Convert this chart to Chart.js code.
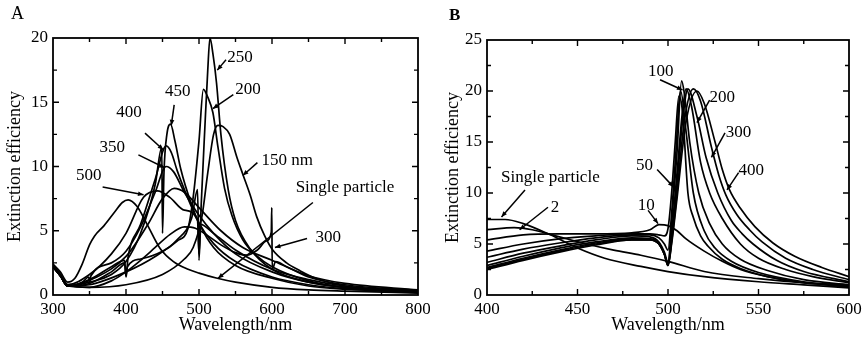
<!DOCTYPE html>
<html>
<head>
<meta charset="utf-8">
<script src="https://cdn.jsdelivr.net/npm/chart.js@4.4.1/dist/chart.umd.min.js"></script>
<style>
  html, body { margin: 0; padding: 0; background: #fff; }
  #wrap { position: relative; width: 866px; height: 338px; overflow: hidden; }
  canvas { position: absolute; top: 0; }
  #ca { left: 0; }
  #cb { left: 430px; }
  .tag { position: absolute; font-family: "Liberation Serif", serif; color: #000; }
</style>
</head>
<body>
<div id="wrap">
  <canvas id="ca" width="430" height="338"></canvas>
  <canvas id="cb" width="436" height="338"></canvas>
  <div class="tag" style="left:11px;top:3px;font-size:18px;">A</div>
  <div class="tag" style="left:449px;top:5px;font-size:17px;font-weight:bold;">B</div>
</div>
<script>
/* ---------- Panel A data: [wavelength nm, extinction efficiency] ---------- */
const A_single = [[300,2.4],[310,1.8],[320,1.0],[330,1.3],[340,2.4],[350,3.9],[357,4.6],[370,5.4],[385,6.5],[395,7.2],[403,7.4],[415,6.9],[428,5.6],[447,3.6],[465,2.6],[485,2.0],[500,1.7],[525,1.3],[550,1.0],[600,0.6],[650,0.4],[700,0.3],[800,0.15]];
const A_150 = [[300,2.2],[310,1.5],[320,0.7],[350,0.6],[400,0.8],[450,1.6],[480,2.8],[492,3.7],[504,6.1],[512,9.5],[520,12.5],[526,13.2],[533,13.1],[542,12.5],[552,10.7],[560,9.4],[570,7.8],[579,6.1],[590,4.6],[601,3.5],[620,2.5],[638,1.9],[660,1.3],[700,0.7],[750,0.4],[800,0.25]];
const A_200 = [[300,2.2],[310,1.5],[320,0.7],[350,0.9],[380,1.8],[398,2.5],[400,1.4],[402,2.2],[420,2.8],[450,3.4],[470,4.2],[485,5.2],[492,7.6],[500,12],[506,16],[512,15.4],[519,14.2],[526,11.5],[535,8.3],[545,6.2],[560,4.3],[580,3.0],[600,2.2],[650,1.1],[700,0.6],[800,0.25]];
const A_250 = [[300,2.2],[310,1.5],[320,0.7],[350,0.8],[400,1.8],[440,3.0],[470,4.3],[490,6.0],[498,8.2],[500,2.7],[503,7],[508,13],[512,17.5],[515,20],[519,18.8],[524,16.5],[530,12.5],[540,8.2],[550,5.8],[570,3.6],[600,2.0],[650,1.0],[700,0.6],[800,0.25]];
const A_300 = [[300,2.3],[310,1.6],[320,0.8],[350,0.6],[380,1.1],[400,1.8],[420,2.7],[440,3.7],[460,4.7],[480,5.3],[495,5.2],[510,4.7],[530,3.9],[550,3.3],[565,3.1],[580,3.5],[592,4.2],[599,4.9],[599.7,6.8],[600.3,2.0],[605,2.6],[620,2.2],[650,1.4],[700,0.8],[800,0.35]];
const A_350 = [[300,2.2],[310,1.5],[320,0.7],[340,1.0],[349,1.4],[350,1.0],[352,1.5],[380,2.5],[400,3.4],[420,5.3],[440,8.0],[455,10.0],[465,9.6],[480,8.0],[500,6.2],[520,4.8],[550,3.2],[600,1.8],[650,1.0],[700,0.6],[800,0.25]];
const A_400 = [[300,2.2],[310,1.5],[320,0.7],[350,1.2],[380,2.2],[398,2.7],[400,1.5],[403,3.0],[420,5.5],[440,9.0],[455,11.6],[462,11.1],[470,9.7],[480,8.2],[500,5.6],[520,4.0],[550,2.6],[600,1.4],[650,0.8],[700,0.5],[800,0.2]];
const A_450 = [[300,2.2],[310,1.5],[320,0.7],[350,1.0],[380,1.6],[400,2.6],[420,4.8],[440,8.6],[449,11.5],[450,4.8],[452,9.5],[456,12.5],[461,13.3],[467,12.0],[475,9.8],[490,7.0],[500,5.6],[520,3.7],[550,2.3],[600,1.3],[650,0.7],[700,0.45],[800,0.2]];
const A_500 = [[300,2.3],[310,1.6],[320,0.8],[350,1.6],[380,3.2],[400,4.8],[424,7.6],[443,8.1],[460,7.6],[480,6.6],[498,5.8],[500,3.2],[502,5.5],[520,4.8],[550,3.5],[600,2.0],[650,1.2],[700,0.7],[800,0.3]];
const A_broad = [[300,2.2],[310,1.5],[320,0.7],[360,1.4],[400,3.0],[430,5.5],[450,7.5],[466,8.3],[480,8.0],[500,6.8],[530,5.0],[560,3.7],[600,2.7],[650,1.5],[700,0.9],[800,0.4]];

/* ---------- Panel B data ---------- */
const B_single = [[400,7.4],[410,7.4],[420,7.0],[435,5.9],[450,4.6],[465,3.6],[485,2.8],[500,2.3],[520,1.8],[550,1.3],[575,1.0],[600,0.7]];
const B_2 = [[400,6.4],[415,6.6],[425,6.4],[440,5.7],[455,5.0],[470,4.4],[485,3.9],[500,3.3],[520,2.3],[550,1.6],[575,1.2],[600,1.0]];
const B_10 = [[400,5.4],[420,5.9],[440,6.0],[460,6.0],[480,6.1],[490,6.4],[495,6.9],[500,6.8],[505,6.3],[510,5.5],[520,4.3],[530,3.3],[540,2.5],[555,1.8],[575,1.2],[600,0.8]];
const B_20 = [[400,4.3],[420,5.0],[440,5.5],[460,5.8],[480,6.0],[490,6.0],[495,5.9],[498,5.8],[500,6.5],[502,10],[504,15],[506,19.5],[508,18],[511,10],[514,7.6],[518,5.8],[522,4.8],[530,3.5],[540,2.6],[555,1.8],[575,1.2],[600,0.8]];
const B_50 = [[400,3.7],[420,4.5],[440,5.1],[460,5.6],[480,5.9],[490,5.9],[495,5.6],[498,5.0],[500,4.4],[502,8],[504,13],[507,20],[510,16],[514,10],[520,6.3],[526,4.6],[535,3.3],[550,2.2],[575,1.3],[600,0.9]];
const B_100 = [[400,3.2],[420,4.1],[440,4.8],[460,5.4],[480,5.8],[490,5.7],[495,5.2],[498,4.2],[500,3.2],[502,7],[505,14],[507.5,21],[509,19.8],[512,15],[517,10],[523,7],[530,5],[540,3.5],[555,2.4],[575,1.5],[600,1.0]];
const B_150 = [[400,2.9],[420,3.8],[440,4.6],[460,5.2],[480,5.6],[490,5.5],[495,5.0],[498,4.0],[500,3.0],[502,6],[505,12],[508,18],[510,20.2],[513,18.5],[518,13],[523,10],[530,7.5],[540,5],[550,3.6],[565,2.5],[580,1.8],[600,1.2]];
const B_200 = [[400,2.7],[420,3.6],[440,4.4],[460,5.1],[480,5.5],[490,5.5],[495,5.0],[498,4.0],[500,2.9],[502,5.5],[505,11],[508,17],[511,20.2],[516,17.5],[521,13.5],[527.5,10],[535,7.3],[541,6.0],[547,5],[560,3.4],[575,2.3],[600,1.3]];
const B_300 = [[400,2.6],[420,3.5],[440,4.3],[460,5.0],[480,5.4],[490,5.4],[495,5.0],[498,4.0],[500,2.9],[502,5.2],[505,10],[509,17],[514,20.2],[518,19],[524,14.5],[528,11.8],[532,9.8],[538,7.9],[545,6.4],[552,5.2],[565,3.6],[580,2.5],[600,1.5]];
const B_400 = [[400,2.5],[420,3.4],[440,4.2],[460,4.9],[480,5.4],[490,5.4],[495,5.0],[498,4.0],[500,2.9],[502,5],[505,9.5],[510,17],[516,20],[520,18.8],[526,15],[530,12.3],[534,10.3],[540,8.5],[548,6.7],[558,5.1],[570,3.8],[585,2.7],[600,1.8]];

/* ---------- Labels with leader arrows: [text, textX, textY, fromX, fromY, toX, toY] ---------- */
const notesA = [
  ["250", 556, 18.5, 537, 18.3, 525, 17.5],
  ["200", 567, 16.0, 547, 15.6, 519, 14.5],
  ["450", 471, 15.8, 466, 14.8, 462, 13.2],
  ["400", 404, 14.2, 426, 12.6, 451, 11.3],
  ["350", 381, 11.5, 417, 10.9, 453, 9.9],
  ["500", 349, 9.3, 368, 8.4, 424, 7.8],
  ["150 nm", 621, 10.5, 580, 10.3, 560, 9.3],
  ["Single particle", 700, 8.4, 656, 7.2, 526, 1.3],
  ["300", 677, 4.5, 648, 4.4, 604, 3.7]
];
const notesB = [
  ["Single particle", 435, 11.5, 421, 10.3, 408, 7.65],
  ["2", 437.6, 8.6, 433.7, 8.6, 418, 6.4],
  ["10", 488, 8.8, 489, 8.3, 494.5, 7.0],
  ["50", 487, 12.7, 494, 12.3, 503, 10.6],
  ["100", 496, 21.9, 495.6, 21.1, 508, 20.1],
  ["200", 530, 19.4, 523, 19.1, 516, 16.9],
  ["300", 539, 15.9, 531.5, 15.9, 524, 13.5],
  ["400", 546, 12.2, 539, 12.0, 532.6, 10.3]
];

const SERIF = "'Liberation Serif', 'Times New Roman', serif";

/* ---------- Frame, inward ticks, labels ---------- */
const framePlugin = {
  id: "frame",
  afterDraw(chart, args, opts) {
    const { ctx, chartArea: a } = chart;
    const xs = chart.scales.x, ys = chart.scales.y;
    ctx.save();
    ctx.strokeStyle = "#000";
    ctx.lineWidth = 1.8;
    ctx.strokeRect(a.left, a.top, a.right - a.left, a.bottom - a.top);

    ctx.lineWidth = 1.4;
    const n = Math.round((xs.max - xs.min) / opts.xMinor);
    for (let i = 1; i < n; i++) {
      const x = xs.getPixelForValue(xs.min + i * opts.xMinor);
      const len = i % 2 === 0 ? 6 : 4;
      ctx.beginPath();
      ctx.moveTo(x, a.bottom); ctx.lineTo(x, a.bottom - len);
      ctx.moveTo(x, a.top); ctx.lineTo(x, a.top + len);
      ctx.stroke();
    }
    const m = Math.round((ys.max - ys.min) / opts.yMinor);
    for (let i = 1; i < m; i++) {
      const y = ys.getPixelForValue(ys.min + i * opts.yMinor);
      const len = i % 2 === 0 ? 6 : 4;
      ctx.beginPath();
      ctx.moveTo(a.left, y); ctx.lineTo(a.left + len, y);
      ctx.moveTo(a.right, y); ctx.lineTo(a.right - len, y);
      ctx.stroke();
    }

    // labels + arrows
    ctx.fillStyle = "#000";
    ctx.font = "17px " + SERIF;
    ctx.textAlign = "center";
    ctx.textBaseline = "middle";
    ctx.lineWidth = 1.5;
    opts.notes.forEach(([t, tx, ty, fx, fy, ex, ey]) => {
      ctx.fillText(t, xs.getPixelForValue(tx), ys.getPixelForValue(ty));
      const x1 = xs.getPixelForValue(fx), y1 = ys.getPixelForValue(fy);
      const x2 = xs.getPixelForValue(ex), y2 = ys.getPixelForValue(ey);
      ctx.beginPath();
      ctx.moveTo(x1, y1); ctx.lineTo(x2, y2);
      ctx.stroke();
      const ang = Math.atan2(y2 - y1, x2 - x1), h = 6;
      ctx.beginPath();
      ctx.moveTo(x2, y2);
      ctx.lineTo(x2 - h * Math.cos(ang - 0.4), y2 - h * Math.sin(ang - 0.4));
      ctx.lineTo(x2 - h * Math.cos(ang + 0.4), y2 - h * Math.sin(ang + 0.4));
      ctx.closePath();
      ctx.fill();
    });
    ctx.restore();
  }
};

function line(data) {
  return {
    data,
    borderColor: "#000",
    borderWidth: 1.7,
    pointRadius: 0,
    cubicInterpolationMode: "monotone",
    fill: false
  };
}

function makePanel(id, series, cfg) {
  return new Chart(document.getElementById(id), {
    type: "line",
    data: { datasets: series.map(line) },
    options: {
      responsive: false,
      animation: false,
      events: [],
      layout: { padding: { top: cfg.top, right: cfg.right, left: 0, bottom: 0 } },
      plugins: {
        legend: { display: false },
        tooltip: { enabled: false },
        frame: { xMinor: cfg.xMinor, yMinor: cfg.yMinor, notes: cfg.notes }
      },
      scales: {
        x: {
          type: "linear", min: cfg.xMin, max: cfg.xMax,
          grid: { display: false, drawTicks: false },
          border: { display: false },
          ticks: { stepSize: cfg.xStep, color: "#000", padding: 4, maxRotation: 0,
                   font: { family: SERIF, size: 17 } },
          title: { display: true, text: "Wavelength/nm", color: "#000",
                   font: { family: SERIF, size: 18 }, padding: { top: 0, bottom: 2 } },
          // keep the plot edges fixed; the last tick label may run off the canvas
          afterFit: s => { s.height = 43; s.paddingLeft = 0; s.paddingRight = 0; }
        },
        y: {
          min: 0, max: cfg.yMax,
          grid: { display: false, drawTicks: false },
          border: { display: false },
          ticks: { stepSize: 5, color: "#000", padding: 5,
                   font: { family: SERIF, size: 17 } },
          title: { display: true, text: "Extinction efficiency", color: "#000",
                   font: { family: SERIF, size: 18 }, padding: { top: cfg.titlePad, bottom: 0 } },
          afterFit: s => { s.width = cfg.yWidth; }
        }
      }
    },
    plugins: [framePlugin]
  });
}

makePanel("ca",
  [A_single, A_150, A_200, A_250, A_300, A_350, A_400, A_450, A_500, A_broad],
  { xMin: 300, xMax: 800, xStep: 100, xMinor: 50, yMax: 20, yMinor: 2.5,
    top: 38, right: 12, yWidth: 53, titlePad: 4, notes: notesA });

makePanel("cb",
  [B_single, B_2, B_10, B_20, B_50, B_100, B_150, B_200, B_300, B_400],
  { xMin: 400, xMax: 600, xStep: 50, xMinor: 25, yMax: 25, yMinor: 2.5,
    top: 40, right: 17, yWidth: 57, titlePad: 12, notes: notesB });
</script>
</body>
</html>
